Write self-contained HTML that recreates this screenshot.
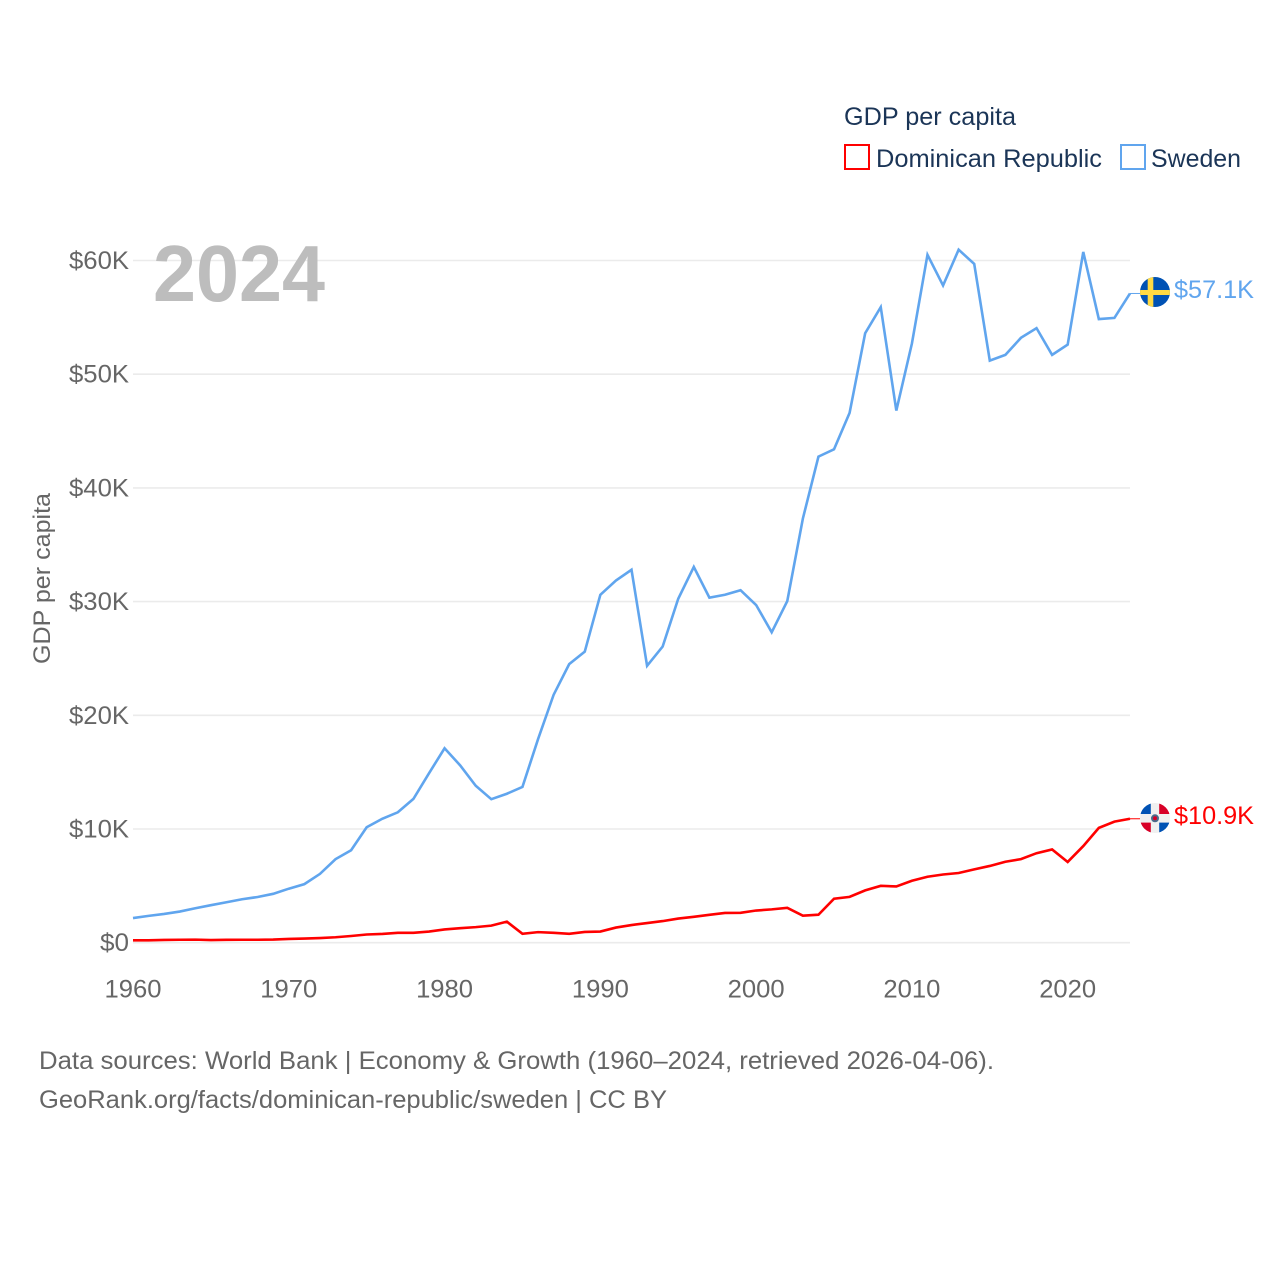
<!DOCTYPE html>
<html>
<head>
<meta charset="utf-8">
<title>GDP per capita: Dominican Republic and Sweden</title>
<style>
html,body{margin:0;padding:0;background:#fff;}
svg{display:block;font-family:"Liberation Sans",sans-serif;}
</style>
</head>
<body>
<svg id="chart" xmlns="http://www.w3.org/2000/svg" width="1280" height="1280" viewBox="0 0 1280 1280">
  <defs>
    <clipPath id="flag-clip-se"><circle cx="1155" cy="292" r="15"/></clipPath>
    <clipPath id="flag-clip-do"><circle cx="1155" cy="818" r="15"/></clipPath>
  </defs>
  <rect width="1280" height="1280" fill="#fff"/>

  <g id="grid"></g>
  <g id="yticks"></g>
  <g id="xticks"></g>

  <text transform="translate(50,664) rotate(-90)" font-size="24" fill="#666" textLength="171" lengthAdjust="spacingAndGlyphs">GDP per capita</text>
  <text x="153" y="301" font-size="80" font-weight="700" fill="#bdbdbd" textLength="172" lengthAdjust="spacingAndGlyphs">2024</text>

  <g id="series"></g>

  <g clip-path="url(#flag-clip-se)">
    <rect x="1140" y="277" width="30" height="30" fill="#0052b4"/>
    <rect x="1147.7" y="277" width="5.6" height="30" fill="#ffda44"/>
    <rect x="1140" y="290" width="30" height="5" fill="#ffda44"/>
  </g>
  <g clip-path="url(#flag-clip-do)">
    <rect x="1140" y="803" width="30" height="30" fill="#f0f0f0"/>
    <rect x="1140" y="803" width="10.8" height="11" fill="#0052b4"/>
    <rect x="1159.2" y="803" width="10.8" height="11" fill="#d80027"/>
    <rect x="1140" y="822.6" width="10.8" height="11" fill="#d80027"/>
    <rect x="1159.2" y="822.6" width="10.8" height="11" fill="#0052b4"/>
    <circle cx="1155" cy="818.3" r="4" fill="#4a6a8a"/>
    <circle cx="1155" cy="818.3" r="2" fill="#d80027"/>
  </g>

  <text x="1174" y="298" font-size="25" fill="#60a5ee" textLength="80" lengthAdjust="spacingAndGlyphs">$57.1K</text>
  <text x="1174" y="824" font-size="25" fill="#ff0000" textLength="80" lengthAdjust="spacingAndGlyphs">$10.9K</text>

  <g>
    <text x="844" y="125" font-size="25" fill="#1b3557" textLength="172" lengthAdjust="spacingAndGlyphs">GDP per capita</text>
    <g>
      <rect x="845" y="145" width="24" height="24" fill="#fff" stroke="#ff0000" stroke-width="2"/>
      <text x="876" y="167" font-size="25" fill="#1b3557" textLength="226" lengthAdjust="spacingAndGlyphs">Dominican Republic</text>
    </g>
    <g>
      <rect x="1121" y="145" width="24" height="24" fill="#fff" stroke="#60a5ee" stroke-width="2"/>
      <text x="1151" y="167" font-size="25" fill="#1b3557" textLength="90" lengthAdjust="spacingAndGlyphs">Sweden</text>
    </g>
  </g>

  <g>
    <text x="39" y="1069" font-size="25" fill="#666" textLength="955" lengthAdjust="spacingAndGlyphs">Data sources: World Bank | Economy &amp; Growth (1960–2024, retrieved 2026-04-06).</text>
    <text x="39" y="1108" font-size="25" fill="#666" textLength="628" lengthAdjust="spacingAndGlyphs">GeoRank.org/facts/dominican-republic/sweden | CC BY</text>
  </g>
</svg>
<script>
const startYear = 1960;
const yTickValues = [0, 10, 20, 30, 40, 50, 60];
const yTickLabels = ["$0", "$10K", "$20K", "$30K", "$40K", "$50K", "$60K"];
const xTickYears = [1960, 1970, 1980, 1990, 2000, 2010, 2020];
const swedenValues = [
  2.17, 2.36, 2.53, 2.74, 3.03, 3.30, 3.56, 3.82, 4.02, 4.30,
  4.75, 5.15, 6.05, 7.35, 8.13, 10.15, 10.90, 11.47, 12.65, 14.90,
  17.10, 15.60, 13.80, 12.62, 13.10, 13.70, 17.90, 21.80, 24.50, 25.60,
  30.60, 31.85, 32.80, 24.35, 26.05, 30.25, 33.05, 30.35, 30.60, 31.00,
  29.70, 27.30, 30.05, 37.30, 42.75, 43.40, 46.60, 53.60, 55.90, 46.80,
  52.70, 60.50, 57.80, 60.95, 59.70, 51.20, 51.70, 53.20, 54.05, 51.70,
  52.60, 60.75, 54.85, 54.95, 57.10
];
const dominicanValues = [
  0.21, 0.21, 0.24, 0.26, 0.27, 0.23, 0.25, 0.26, 0.26, 0.28,
  0.33, 0.36, 0.41, 0.48, 0.59, 0.72, 0.77, 0.87, 0.87, 0.98,
  1.17, 1.28, 1.37, 1.50, 1.85, 0.78, 0.93, 0.87, 0.78, 0.95,
  0.98, 1.33, 1.55, 1.73, 1.90, 2.12, 2.28, 2.45, 2.62, 2.63,
  2.83, 2.93, 3.07, 2.38, 2.46, 3.87, 4.03, 4.60, 5.00, 4.95,
  5.45, 5.80, 6.00, 6.13, 6.45, 6.75, 7.12, 7.35, 7.87, 8.20,
  7.10, 8.50, 10.10, 10.65, 10.90
];

const NS = "http://www.w3.org/2000/svg";
function xScale(year) { return 133 + (year - 1960) * (997 / 64); }
function yScale(value) { return 942.7 - value * 11.37; }

function makeEl(tag, attrs, parent) {
  const el = document.createElementNS(NS, tag);
  for (const k in attrs) el.setAttribute(k, attrs[k]);
  parent.appendChild(el);
  return el;
}

const gridGroup = document.getElementById("grid");
const yTickGroup = document.getElementById("yticks");
const xTickGroup = document.getElementById("xticks");
const seriesGroup = document.getElementById("series");

yTickValues.forEach(function (v, i) {
  const gridLine = makeEl("line", { x1: 133, x2: 1130, y1: yScale(v), y2: yScale(v), stroke: "#ebebeb", "stroke-width": 1.6 }, gridGroup);
  
  
  const label = makeEl("text", { x: 129, y: yScale(v) + 8.5, "text-anchor": "end", "font-size": 25, fill: "#666" }, yTickGroup);
  
  
  label.textContent = yTickLabels[i];
  label.setAttribute("textLength", yTickLabels[i].length === 2 ? 29 : 60);
  label.setAttribute("lengthAdjust", "spacingAndGlyphs");
});

xTickYears.forEach(function (yr) {
  const label = makeEl("text", { x: xScale(yr), y: 997.5, "text-anchor": "middle", "font-size": 25, fill: "#666", textLength: 57, lengthAdjust: "spacingAndGlyphs" }, xTickGroup);
  
  
  label.textContent = yr;
});

function linePoints(values) {
  return values.map(function (v, i) {
    return xScale(startYear + i).toFixed(2) + "," + yScale(v).toFixed(2);
  }).join(" ");
}

const drDash = makeEl("line", { x1: xScale(2024), x2: 1140, y1: yScale(dominicanValues[dominicanValues.length - 1]), y2: yScale(dominicanValues[dominicanValues.length - 1]), stroke: "#ff0000", "stroke-width": 1 }, seriesGroup);


const seDash = makeEl("line", { x1: xScale(2024), x2: 1140, y1: yScale(swedenValues[swedenValues.length - 1]), y2: yScale(swedenValues[swedenValues.length - 1]), stroke: "#60a5ee", "stroke-width": 1 }, seriesGroup);



const seLine = makeEl("polyline", { points: linePoints(swedenValues), fill: "none", stroke: "#60a5ee", "stroke-width": 2.6, "stroke-linejoin": "miter" }, seriesGroup);


const drLine = makeEl("polyline", { points: linePoints(dominicanValues), fill: "none", stroke: "#ff0000", "stroke-width": 2.6, "stroke-linejoin": "miter" }, seriesGroup);


</script>
</body>
</html>
